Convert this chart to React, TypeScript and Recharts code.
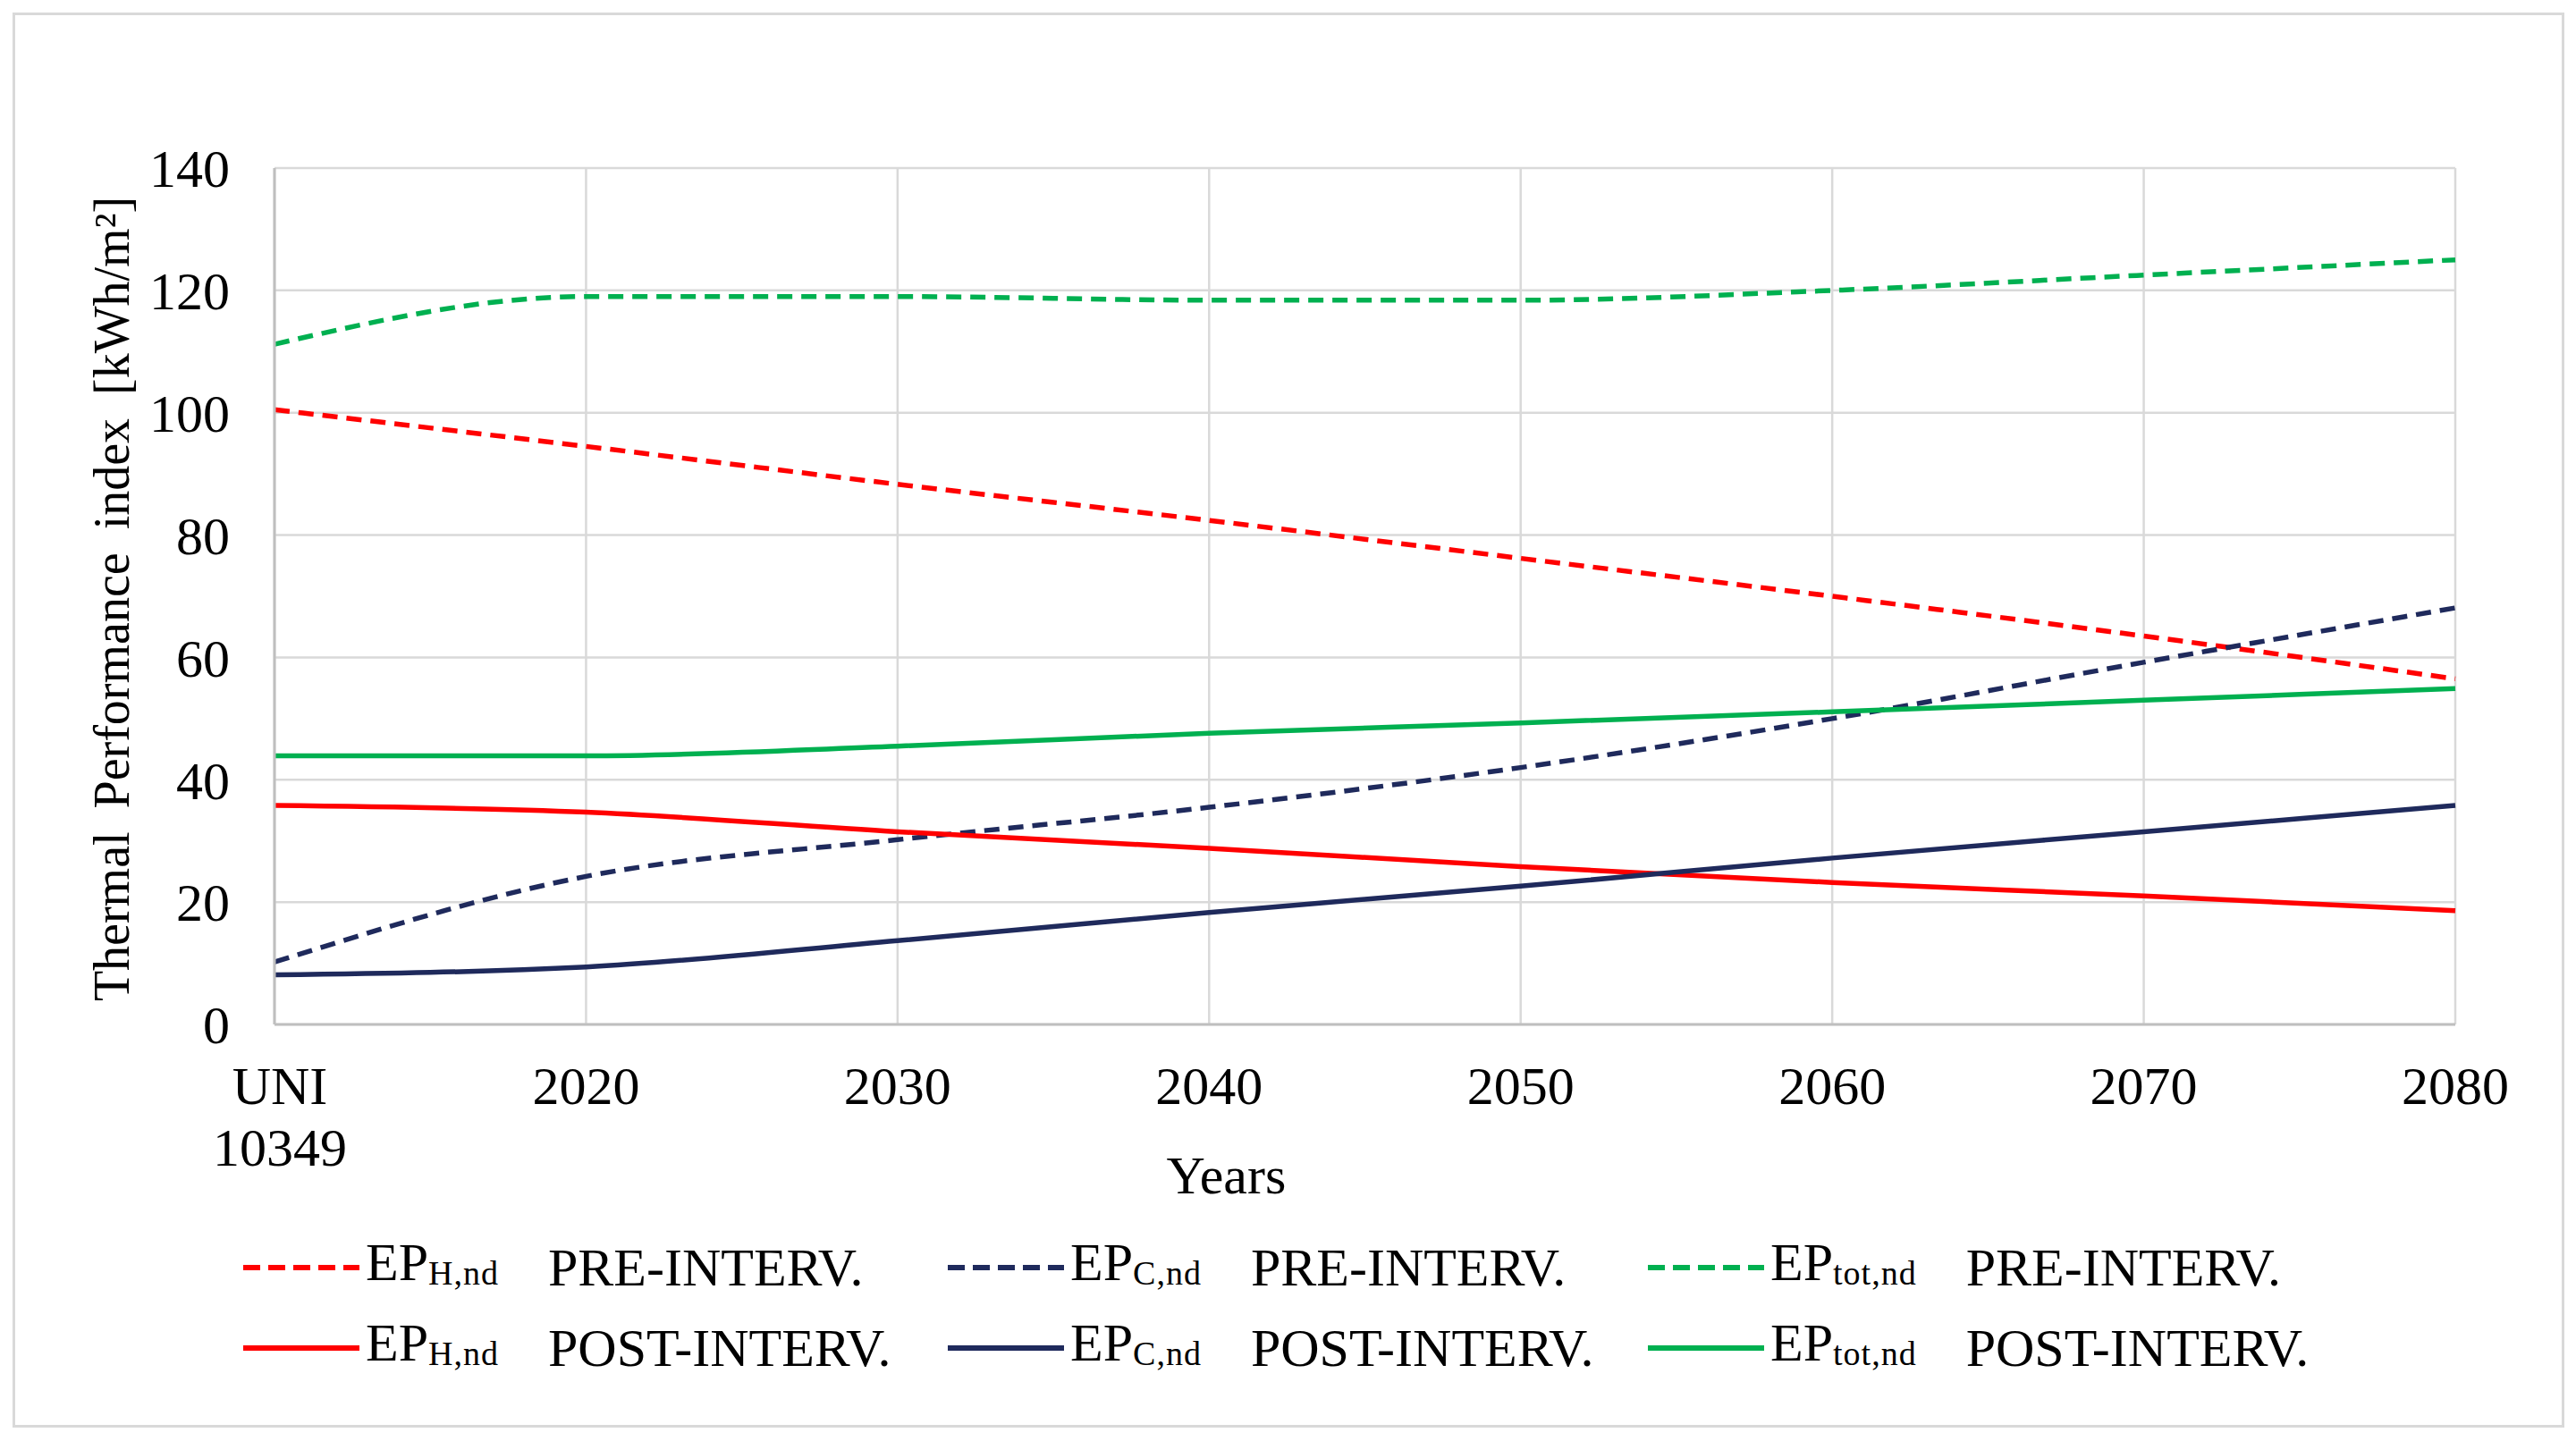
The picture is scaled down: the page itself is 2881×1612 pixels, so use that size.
import React from "react";
import { LineChart, Line, XAxis, YAxis, CartesianGrid, Legend } from "recharts";

const FONT = "'Liberation Serif', 'Times New Roman', serif";

// categories on the x axis ("UNI 10349" is split on two lines)
const years = ["UNI 10349", "2020", "2030", "2040", "2050", "2060", "2070", "2080"];

// values, kWh/m²
const ephPre = [100.5, 94.5, 88.3, 82.4, 76.2, 70.0, 63.5, 56.5];
const epcPre = [10.2, 24.2, 30.2, 35.5, 42.0, 50.0, 59.2, 68.1];
const eptotPre = [111.2, 119.0, 119.0, 118.4, 118.4, 120.0, 122.5, 125.0];
const ephPost = [35.8, 34.7, 31.5, 28.8, 25.8, 23.2, 21.0, 18.6];
const epcPost = [8.1, 9.4, 13.7, 18.3, 22.6, 27.2, 31.5, 35.8];
const eptotPost = [43.9, 43.9, 45.5, 47.6, 49.3, 51.1, 53.0, 54.9];

const yTicks = [0, 20, 40, 60, 80, 100, 120, 140];

const data = years.map((year, i) => ({
  year,
  ephPre: ephPre[i],
  epcPre: epcPre[i],
  eptotPre: eptotPre[i],
  ephPost: ephPost[i],
  epcPost: epcPost[i],
  eptotPost: eptotPost[i],
}));

const RED = "#FF0000";
const NAVY = "#1F2A5C";
const GREEN = "#00B050";
const DASH = "17 10";

// legend order: row 1 pre, row 2 post
const series = [
  { key: "ephPre", sub: "H,nd", phase: "PRE-INTERV.", color: RED, dashed: true },
  { key: "epcPre", sub: "C,nd", phase: "PRE-INTERV.", color: NAVY, dashed: true },
  { key: "eptotPre", sub: "tot,nd", phase: "PRE-INTERV.", color: GREEN, dashed: true },
  { key: "ephPost", sub: "H,nd", phase: "POST-INTERV.", color: RED, dashed: false },
  { key: "epcPost", sub: "C,nd", phase: "POST-INTERV.", color: NAVY, dashed: false },
  { key: "eptotPost", sub: "tot,nd", phase: "POST-INTERV.", color: GREEN, dashed: false },
];

const XTick = (props: any) => {
  const { x, y, payload } = props;
  const lines = String(payload.value).split(" ");
  const dx = lines.length > 1 ? 6 : 0;
  return (
    <text x={x + dx} y={y} textAnchor="middle" fontSize={60} fontFamily={FONT} fill="#000">
      {lines.map((l, i) => (
        <tspan key={i} x={x + dx} dy={i === 0 ? 87 : 69}>
          {l}
        </tspan>
      ))}
    </text>
  );
};

const renderLegend = () => (
  <div
    style={{
      display: "grid",
      gridTemplateColumns: "788px 783px 760px",
      gridAutoRows: "90px",
      fontFamily: FONT,
      color: "#000",
    }}
  >
    {series.map((s) => (
      <div key={s.key} style={{ display: "flex", alignItems: "center", whiteSpace: "nowrap" }}>
        <svg width={130} height={20}>
          <line
            x1={0}
            y1={10}
            x2={130}
            y2={10}
            stroke={s.color}
            strokeWidth={6}
            strokeDasharray={s.dashed ? "19 9" : undefined}
          />
        </svg>
        <span style={{ marginLeft: 7, fontSize: 60, lineHeight: "60px" }}>
          EP
          <span style={{ fontSize: 38, verticalAlign: "-0.12em", letterSpacing: 1 }}>{s.sub}</span>
        </span>
        <span style={{ marginLeft: 55, fontSize: 60, lineHeight: "60px" }}>{s.phase}</span>
      </div>
    ))}
  </div>
);

export default function App() {
  return (
    <div style={{ position: "absolute", left: 0, top: 0, width: 2881, height: 1612, background: "#fff" }}>
      <div
        style={{
          position: "absolute",
          left: 14,
          top: 14,
          width: 2854,
          height: 1583,
          boxSizing: "border-box",
          border: "3px solid #d9d9d9",
        }}
      />
      <div style={{ position: "absolute", left: 0, top: 0 }}>
        <LineChart
          width={2881}
          height={1612}
          data={data}
          margin={{ top: 188, right: 135, bottom: 0, left: 0 }}
        >
          <CartesianGrid stroke="#d9d9d9" strokeWidth={2.5} />
          <XAxis
            dataKey="year"
            interval={0}
            height={466}
            tickLine={false}
            tickSize={0}
            axisLine={{ stroke: "#bfbfbf", strokeWidth: 3 }}
            tick={<XTick />}
            label={(p: any) => {
              const vb = p.viewBox || { x: 307, y: 1146, width: 2439 };
              return (
                <text
                  x={vb.x + vb.width * 0.4364}
                  y={vb.y + 189}
                  textAnchor="middle"
                  fontSize={60}
                  fontFamily={FONT}
                  fill="#000"
                >
                  Years
                </text>
              );
            }}
          />
          <YAxis
            width={307}
            domain={[0, 140]}
            ticks={yTicks}
            interval={0}
            tickLine={false}
            tickSize={0}
            tickMargin={50}
            axisLine={{ stroke: "#bfbfbf", strokeWidth: 3 }}
            tick={{ fontSize: 60, fontFamily: FONT, fill: "#000" }}
            label={(p: any) => {
              const vb = p.viewBox || { x: 0, y: 188, width: 307, height: 958 };
              const cx = vb.x + 125;
              const cy = vb.y + vb.height / 2 + 3;
              return (
                <text
                  x={cx}
                  y={cy}
                  transform={`rotate(-90, ${cx}, ${cy})`}
                  textAnchor="middle"
                  dominantBaseline="central"
                  fontSize={56}
                  fontFamily={FONT}
                  fill="#000"
                  style={{ wordSpacing: 12 }}
                >
                  Thermal Performance index [kWh/m²]
                </text>
              );
            }}
          />
          <Legend
            layout="horizontal"
            verticalAlign="middle"
            align="center"
            content={renderLegend}
            wrapperStyle={{ left: 272, top: 1373, width: 2500, height: 180 }}
          />
          {series.map((s) => (
            <Line
              key={s.key}
              type="monotone"
              dataKey={s.key}
              stroke={s.color}
              strokeWidth={5.5}
              strokeDasharray={s.dashed ? DASH : undefined}
              dot={false}
              activeDot={false}
              isAnimationActive={false}
            />
          ))}
        </LineChart>
      </div>
    </div>
  );
}
